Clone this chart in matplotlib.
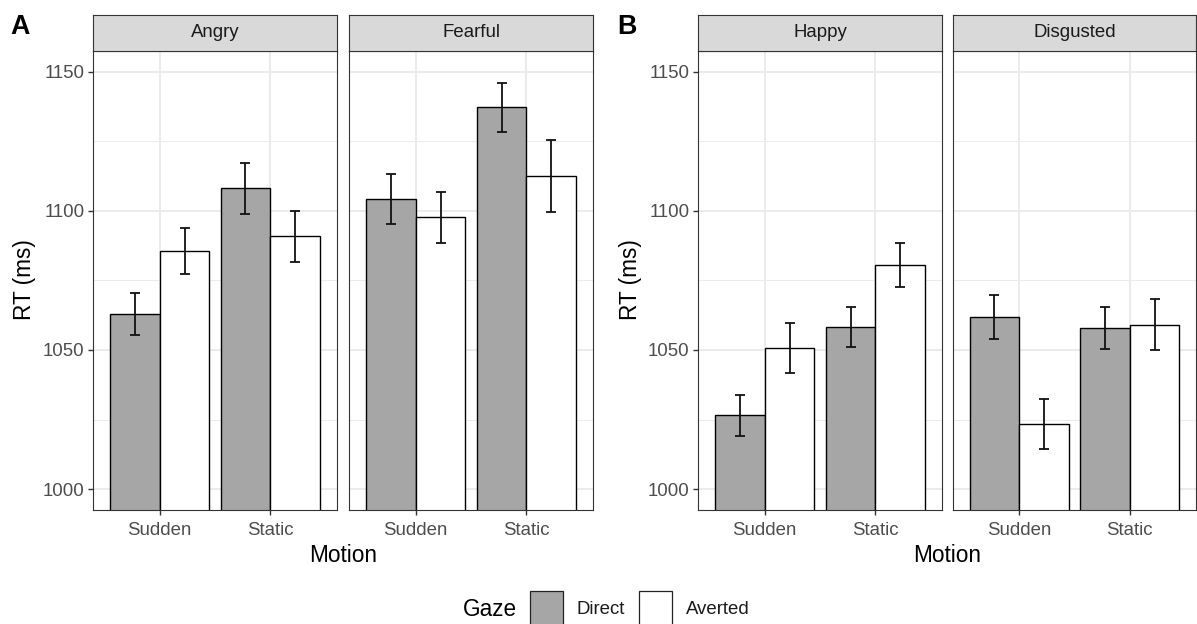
import matplotlib
matplotlib.use("Agg")
import matplotlib.pyplot as plt
from matplotlib.patches import Rectangle
import numpy as np

plt.rcParams['font.family'] = ['Liberation Sans', 'DejaVu Sans']

# mean RT (ms) per motion condition, one list per emotion and gaze
motion = ["Sudden", "Static"]
gaze = ["Direct", "Averted"]

angry_direct = [1062.9, 1108.0]
angry_averted = [1085.6, 1090.8]
angry_direct_se = [7.7, 9.1]
angry_averted_se = [8.2, 9.2]

fearful_direct = [1104.2, 1137.2]
fearful_averted = [1097.7, 1112.5]
fearful_direct_se = [8.9, 8.8]
fearful_averted_se = [9.2, 13.0]

happy_direct = [1026.5, 1058.1]
happy_averted = [1050.6, 1080.5]
happy_direct_se = [7.4, 7.2]
happy_averted_se = [8.9, 8.0]

disgusted_direct = [1061.7, 1057.9]
disgusted_averted = [1023.4, 1059.1]
disgusted_direct_se = [7.9, 7.5]
disgusted_averted_se = [9.0, 9.2]

y_ticks = [1000, 1050, 1100, 1150]
y_minor = [1025, 1075, 1125]

W, H = 1197, 624
fig = plt.figure(figsize=(W / 100, H / 100), dpi=100)

DIRECT_FILL = "#A6A6A6"
BORDER = "#333333"
GRID = "#EBEBEB"
SMALL = 13.4
BIG = 16.3


def px_axes(x0, y0, x1, y1):
    # axes placed by pixel box (top-left origin)
    return fig.add_axes([x0 / W, 1 - y1 / H, (x1 - x0) / W, (y1 - y0) / H])


def strip(x0, x1, label):
    sax = px_axes(x0, 15, x1, 50.7)
    sax.set_facecolor("#D9D9D9")
    sax.set_xticks([])
    sax.set_yticks([])
    for s in sax.spines.values():
        s.set_color(BORDER)
        s.set_linewidth(0.8)
    sax.text(0.5, 0.5, label, ha="center", va="center", size=SMALL,
             color="#1A1A1A", transform=sax.transAxes)


def facet(x0, x1, label, direct, averted, direct_se, averted_se, show_y):
    ax = px_axes(x0, 50.7, x1, 510)
    x = np.arange(1, len(motion) + 1)
    off = 0.225
    ax.bar(x - off, direct, 0.45, color=DIRECT_FILL, edgecolor="black",
           linewidth=1.0, zorder=2)
    ax.bar(x + off, averted, 0.45, color="white", edgecolor="black",
           linewidth=1.0, zorder=2)
    ax.errorbar(x - off, direct, yerr=direct_se, fmt="none", ecolor="#111111",
                elinewidth=1.3, capsize=3.9, capthick=1.3, zorder=3)
    ax.errorbar(x + off, averted, yerr=averted_se, fmt="none", ecolor="#111111",
                elinewidth=1.3, capsize=3.9, capthick=1.3, zorder=3)

    ax.set_xlim(0.4, 2.6)
    ax.set_ylim(992.5, 1157.5)
    ax.set_xticks(x)
    ax.set_xticklabels(motion)
    ax.set_yticks(y_ticks)
    ax.set_yticks(y_minor, minor=True)
    ax.set_axisbelow(True)
    ax.grid(which="major", color=GRID, linewidth=1.4)
    ax.grid(which="minor", axis="y", color=GRID, linewidth=0.7)
    for s in ax.spines.values():
        s.set_color(BORDER)
        s.set_linewidth(0.8)
        s.set_zorder(4)
    ax.tick_params(which="major", length=3.8, width=1.0, color=BORDER,
                   labelsize=SMALL, labelcolor="#4D4D4D", pad=2.2)
    ax.tick_params(axis="x", pad=4.5)
    ax.tick_params(which="minor", length=0)
    if not show_y:
        ax.tick_params(axis="y", which="both", left=False, labelleft=False)
    strip(x0, x1, label)
    return ax


# panel A
facet(93, 337, "Angry", angry_direct, angry_averted,
      angry_direct_se, angry_averted_se, True)
facet(349, 593, "Fearful", fearful_direct, fearful_averted,
      fearful_direct_se, fearful_averted_se, False)
# panel B
facet(698, 942, "Happy", happy_direct, happy_averted,
      happy_direct_se, happy_averted_se, True)
facet(953, 1196, "Disgusted", disgusted_direct, disgusted_averted,
      disgusted_direct_se, disgusted_averted_se, False)

# panel letters and axis titles
fig.text(10 / W, 1 - 26.5 / H, "A", size=19.4, weight="bold", ha="left", va="center")
fig.text(617 / W, 1 - 26.5 / H, "B", size=19.4, weight="bold", ha="left", va="center")
for xl in (25, 630):
    fig.text(xl / W, 1 - 280 / H, "RT (ms)", size=BIG, rotation=90,
             ha="center", va="center")
for xc in (343, 947):
    fig.text(xc / W, 1 - 555 / H, "Motion", size=BIG, ha="center", va="center")

# legend along the bottom
fig.text(463 / W, 1 - 609 / H, "Gaze", size=BIG, ha="left", va="center")
key_x = [530, 639]
key_fill = [DIRECT_FILL, "white"]
for kx, fc, name in zip(key_x, key_fill, gaze):
    fig.add_artist(Rectangle((kx / W, 1 - 626 / H), 33 / W, 35 / H,
                             transform=fig.transFigure, facecolor=fc,
                             edgecolor="#222222", linewidth=0.9))
    fig.text((kx + 47) / W, 1 - 609 / H, name, size=SMALL,
             ha="left", va="center", color="#1A1A1A")

fig.savefig("out.png", dpi=100)
